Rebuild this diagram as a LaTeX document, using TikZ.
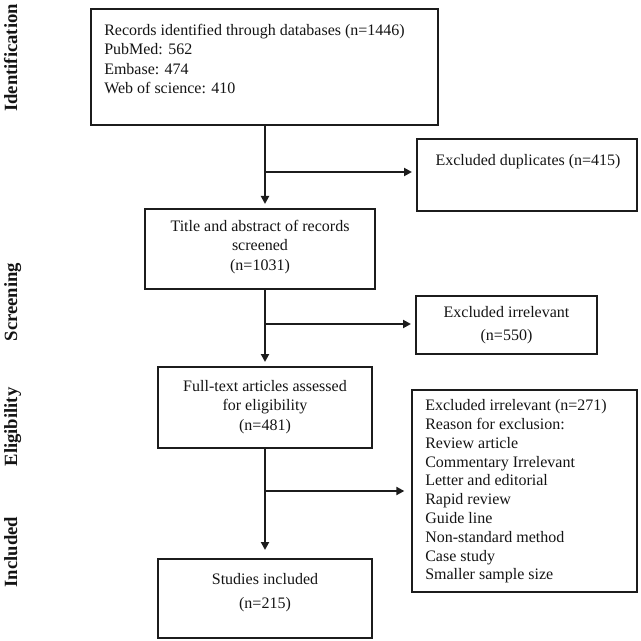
\documentclass[tikz,border=0pt]{standalone}
\usepackage{fontspec}
\setmainfont{Liberation Serif}
\usepackage{tikz}
\usetikzlibrary{arrows.meta,positioning}
\definecolor{FlowLine}{HTML}{1C1C1C}
\definecolor{FlowText}{HTML}{141414}
\tikzset{
  flowbox/.style={draw=FlowLine,line width=1.5pt,inner sep=0pt},
  flowtext/.style={text=FlowText,inner sep=0pt,font=\fontsize{12}{14.6}\selectfont},
  flowlink/.style={draw=FlowLine,line width=1.5pt},
  flowarrow/.style={flowlink,shorten >=3pt,-{Triangle[length=6pt,width=6pt]}},
  phase/.style={text=FlowText,inner sep=0pt,rotate=90,anchor=base,
                font=\fontsize{14}{16}\selectfont\bfseries}
}
\begin{document}
\begin{tikzpicture}[x=0.75pt,y=-0.75pt]
  \useasboundingbox (0,0) rectangle (640,641);
  % phase labels
  \node[phase] (idlab)   at (17,58)  {Identification};
  \node[phase] (scrlab)  at (17,302) {Screening};
  \node[phase] (eliglab) at (17,427) {Eligibility};
  \node[phase] (inclab)  at (17,552) {Included};
  % main column
  \node[flowbox,minimum width=260.25pt,minimum height=87pt] (records) at (264.5,67) {};
  \node[flowbox,minimum width=172.5pt,minimum height=60pt] (screened) at (260,249) {};
  \node[flowbox,minimum width=160.5pt,minimum height=60.75pt] (fulltext) at (265,407.5) {};
  \node[flowbox,minimum width=160.5pt,minimum height=59.25pt] (included) at (265,598.5) {};
  % exclusions
  \node[flowbox,minimum width=165pt,minimum height=54pt] (dupl) at (527,175) {};
  \node[flowbox,minimum width=135.75pt,minimum height=43.5pt] (irrel) at (506.5,325) {};
  \node[flowbox,minimum width=168.75pt,minimum height=151.5pt] (reasons) at (524.5,491) {};
  % texts
  \node[flowtext,anchor=north west,align=left] (recordstxt) at (104,24)
    {Records identified through databases (n=1446)\\PubMed: 562\\Embase: 474\\Web of science: 410};
  \node[flowtext,align=center] (screenedtxt) at (260,247)
    {Title and abstract of records\\screened\\(n=1031)};
  \node[flowtext,align=center] (fulltexttxt) at (265,407)
    {Full-text articles assessed\\for eligibility\\(n=481)};
  \node[flowtext,align=center] (includedtxt) at (265,593)
    {Studies included\\[3.5pt](n=215)};
  \node[flowtext] (dupltxt) at (528,162) {Excluded duplicates (n=415)};
  \node[flowtext,align=center] (irreltxt) at (506.5,325)
    {Excluded irrelevant\\[3pt](n=550)};
  \node[flowtext,anchor=west,align=left,font=\fontsize{12}{14.1}\selectfont] (reasonstxt) at (425,491.5)
    {Excluded irrelevant (n=271)\\Reason for exclusion:\\Review article\\Commentary Irrelevant\\%
     Letter and editorial\\Rapid review\\Guide line\\Non-standard method\\Case study\\Smaller sample size};
  % connectors
  \coordinate (split1) at (265,172);
  \coordinate (split2) at (265,324);
  \coordinate (split3) at (265,491);
  \draw[flowlink] (records.south -| split1) -- (split1);
  \draw[flowarrow] (split1) -- (split1 |- screened.north);
  \draw[flowarrow] (split1) -- (split1 -| dupl.west);
  \draw[flowlink] (screened.south -| split2) -- (split2);
  \draw[flowarrow] (split2) -- (split2 |- fulltext.north);
  \draw[flowarrow] (split2) -- (split2 -| irrel.west);
  \draw[flowlink] (fulltext.south -| split3) -- (split3);
  \draw[flowarrow,shorten >=6pt] (split3) -- (split3 |- included.north);
  \draw[flowarrow,shorten >=5pt] (split3) -- (split3 -| reasons.west);
\end{tikzpicture}
\end{document}
